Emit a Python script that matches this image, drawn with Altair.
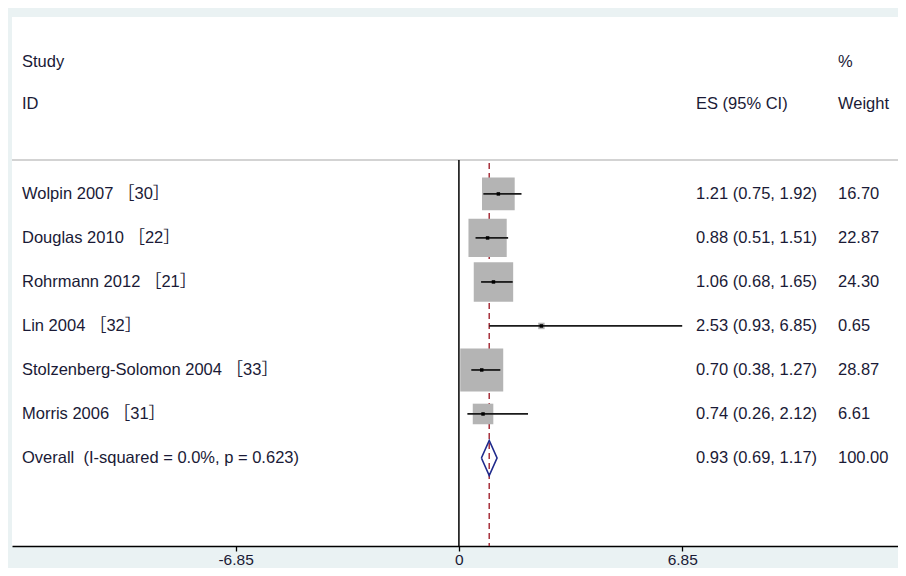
import altair as alt
import pandas as pd

# ---- data ----
studies = ["Wolpin 2007 ［30］", "Douglas 2010 ［22］", "Rohrmann 2012 ［21］",
           "Lin 2004 ［32］", "Stolzenberg-Solomon 2004 ［33］", "Morris 2006 ［31］"]
es = [1.21, 0.88, 1.06, 2.53, 0.70, 0.74]
ci_low = [0.75, 0.51, 0.68, 0.93, 0.38, 0.26]
ci_high = [1.92, 1.51, 1.65, 6.85, 1.27, 2.12]
weights = [16.70, 22.87, 24.30, 0.65, 28.87, 6.61]

overall_label = "Overall\u00a0 (I-squared = 0.0%, p = 0.623)"
overall_es = 0.93
overall_low = 0.69
overall_high = 1.17
overall_weight = 100.00

axis_ticks = [-6.85, 0, 6.85]
axis_labels = ["-6.85", "0", "6.85"]

# ---- tables ----
n = len(studies)
rows = pd.DataFrame({
    "study": studies,
    "es": es,
    "lo": ci_low,
    "hi": ci_high,
    "w": weights,
    "row": list(range(n)),
})

text_rows = pd.DataFrame({
    "label": studies + [overall_label],
    "es_text": [f"{e:.2f} ({l:.2f}, {h:.2f})" for e, l, h in
                zip(es + [overall_es], ci_low + [overall_low], ci_high + [overall_high])],
    "w_text": [f"{w:.2f}" for w in weights + [overall_weight]],
    "row": list(range(n + 1)),
})

half = 0.4
diamond = pd.DataFrame({
    "x": [overall_low, overall_es, overall_high, overall_es, overall_low],
    "y": [n, n - half, n, n + half, n],
    "o": [0, 1, 2, 3, 4],
})

W, H = 886, 529
FONT = "Liberation Sans, Arial, Noto Sans CJK SC"
TXT = "#1a1a36"
FS = 16.5

xscale = alt.Scale(domain=[-13.71, 13.47], nice=False, zero=False)
yscale = alt.Scale(domain=[8.0, -4.02], nice=False, zero=False)

label_expr = " : ".join(
    f"datum.value == {v} ? '{t}'" for v, t in zip(axis_ticks, axis_labels)
) + " : ''"

base = alt.Chart(rows)

xenc = alt.X("es:Q", scale=xscale,
             axis=alt.Axis(values=axis_ticks, labelExpr=label_expr, title=None,
                           grid=False, domainColor="black", domainWidth=1.6,
                           tickColor="black", tickWidth=1.3, tickSize=5,
                           labelFont=FONT, labelFontSize=15.5, labelColor=TXT,
                           labelPadding=1, labelFlush=False))
yenc = alt.Y("row:Q", scale=yscale, axis=None)

# separator under the header
sep = alt.Chart(pd.DataFrame({"a": [0]})).mark_rule(color="#c4c4c4", strokeWidth=1.6).encode(
    x=alt.value(0), x2=alt.value(W), y=alt.value(143))

# zero line
zero = alt.Chart(pd.DataFrame({"z": [0]})).mark_rule(color="black", strokeWidth=1.5).encode(
    x=alt.X("z:Q", scale=xscale), y=alt.value(143), y2=alt.value(H))

# overall effect dashed line
ovl = alt.Chart(pd.DataFrame({"z": [overall_es]})).mark_rule(
    color="#a8323e", strokeWidth=1.5, strokeDash=[6, 4]).encode(
    x=alt.X("z:Q", scale=xscale), y=alt.value(146), y2=alt.value(H))

boxes = base.mark_square(color="#b4b4b4", opacity=1).encode(
    x=xenc, y=yenc,
    size=alt.Size("w:Q", scale=alt.Scale(domain=[0, 100], range=[0, 6400]), legend=None))

ci = base.mark_rule(color="#1a1a1a", strokeWidth=1.8).encode(
    x=alt.X("lo:Q", scale=xscale), x2="hi:Q", y=yenc)

pts = base.mark_square(color="black", size=12, opacity=1).encode(
    x=alt.X("es:Q", scale=xscale), y=yenc)

dia = alt.Chart(diamond).mark_line(color="#1f2a8c", strokeWidth=1.6).encode(
    x=alt.X("x:Q", scale=xscale), y=alt.Y("y:Q", scale=yscale, axis=None), order="o:Q")

tbase = alt.Chart(text_rows)
tkw = dict(font=FONT, fontSize=FS, color=TXT, baseline="middle", align="left")
lab = tbase.mark_text(**tkw).encode(x=alt.value(10), y=alt.Y("row:Q", scale=yscale, axis=None), text="label:N")
est = tbase.mark_text(**tkw).encode(x=alt.value(684), y=alt.Y("row:Q", scale=yscale, axis=None), text="es_text:N")
wt = tbase.mark_text(**tkw).encode(x=alt.value(826), y=alt.Y("row:Q", scale=yscale, axis=None), text="w_text:N")

hdr = pd.DataFrame({
    "t": ["Study", "ID", "%", "ES (95% CI)", "Weight"],
    "px": [10, 10, 826, 684, 826],
    "py": [45, 87, 45, 87, 87],
})
head = alt.Chart(hdr).mark_text(**tkw).encode(
    x=alt.X("px:Q", scale=None), y=alt.Y("py:Q", scale=None), text="t:N")

chart = alt.layer(sep, zero, ovl, boxes, ci, pts, dia, lab, est, wt, head).properties(
    width=W, height=H,
    background="#eaf2f3",
    padding={"left": 4, "top": 9, "right": 0, "bottom": 22},
    autosize=alt.AutoSizeParams(type="none"),
).configure_view(fill="white", stroke=None)

chart.save("out.html", embed_options={"renderer": "svg", "actions": False})
